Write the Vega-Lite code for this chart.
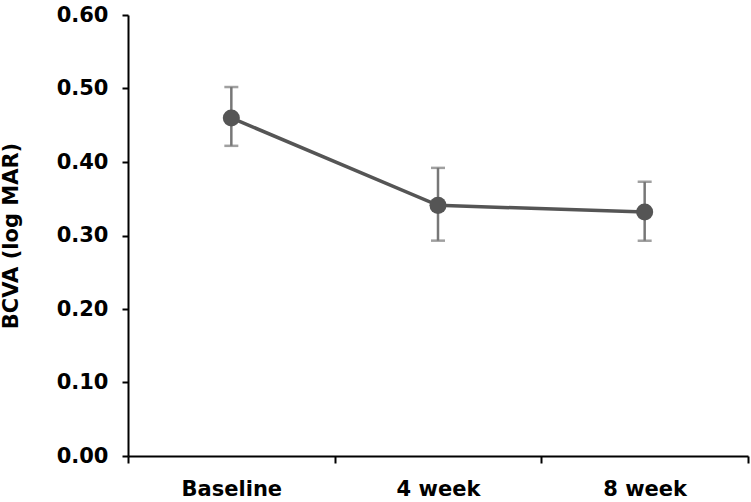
{
  "$schema": "https://vega.github.io/schema/vega-lite/v6.json",
  "width": 620,
  "height": 441,
  "padding": {"left": 128, "top": 15, "right": 3, "bottom": 46},
  "autosize": {"type": "none"},
  "background": "white",
  "config": {
    "view": {"stroke": null},
    "font": "DejaVu Sans",
    "axis": {
      "grid": false,
      "domainColor": "black",
      "domainWidth": 2,
      "tickColor": "black",
      "tickWidth": 2,
      "labelFont": "DejaVu Sans",
      "labelFontWeight": "bold",
      "labelFontSize": 21,
      "labelColor": "black",
      "titleFont": "DejaVu Sans",
      "titleFontWeight": "bold",
      "titleFontSize": 21,
      "titleColor": "black"
    }
  },
  "data": {
    "values": [
      {"time": "Baseline", "mean": 0.46, "low": 0.422, "high": 0.502},
      {"time": "4 week", "mean": 0.341, "low": 0.293, "high": 0.392},
      {"time": "8 week", "mean": 0.332, "low": 0.293, "high": 0.373}
    ]
  },
  "encoding": {
    "x": {
      "field": "time",
      "type": "nominal",
      "sort": ["Baseline", "4 week", "8 week"],
      "scale": {"type": "band", "paddingInner": 0, "paddingOuter": 0},
      "axis": {
        "title": null,
        "labelAngle": 0,
        "tickBand": "extent",
        "tickSize": 7,
        "labelPadding": 15
      }
    }
  },
  "layer": [
    {
      "mark": {"type": "rule", "color": "#777777", "strokeWidth": 2.5},
      "encoding": {
        "y": {"field": "low", "type": "quantitative"},
        "y2": {"field": "high"}
      }
    },
    {
      "mark": {"type": "tick", "color": "#777777", "thickness": 2.5, "size": 14},
      "encoding": {"y": {"field": "low", "type": "quantitative"}}
    },
    {
      "mark": {"type": "tick", "color": "#777777", "thickness": 2.5, "size": 14},
      "encoding": {"y": {"field": "high", "type": "quantitative"}}
    },
    {
      "mark": {"type": "line", "color": "#555555", "strokeWidth": 3.5},
      "encoding": {
        "y": {
          "field": "mean",
          "type": "quantitative",
          "scale": {"domain": [0, 0.6], "nice": false, "zero": true},
          "axis": {
            "title": "BCVA (log MAR)",
            "values": [0, 0.1, 0.2, 0.3, 0.4, 0.5, 0.6],
            "format": ".2f",
            "tickSize": 6,
            "labelPadding": 14,
            "titlePadding": 35
          }
        }
      }
    },
    {
      "mark": {"type": "point", "filled": true, "color": "#555555", "opacity": 1, "size": 290},
      "encoding": {"y": {"field": "mean", "type": "quantitative"}}
    }
  ]
}
